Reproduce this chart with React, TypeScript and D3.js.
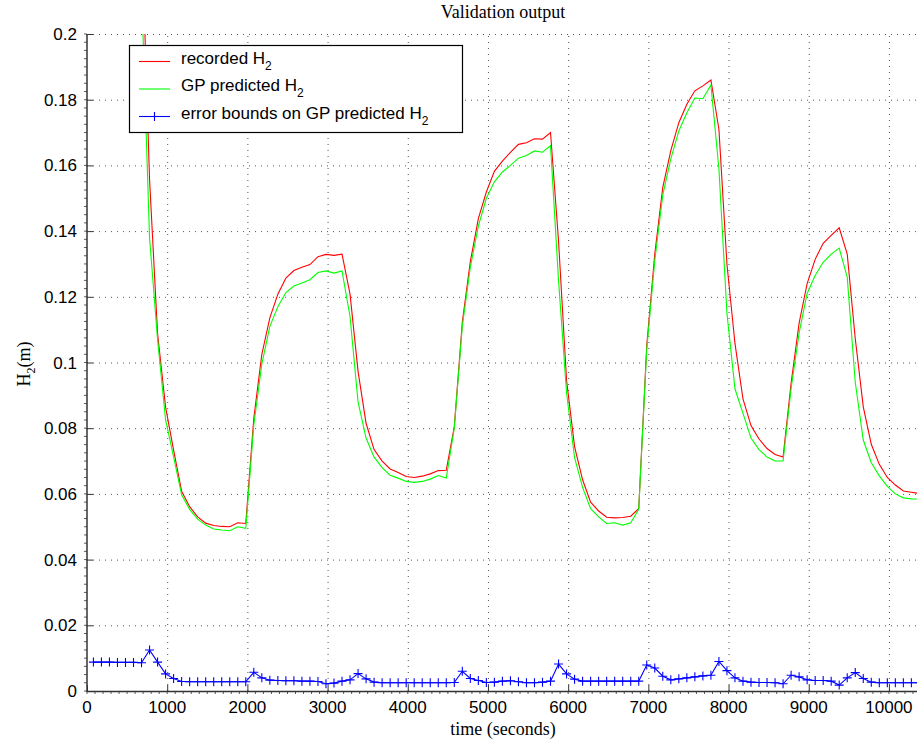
import React from 'react';
import * as d3 from 'd3';

// sampling of the validation run (seconds)
const t0 = 80;
const dt = 100;

// recorded H2 (m)
const recorded = [
  0.310, 0.310, 0.305, 0.300, 0.290, 0.270, 0.233, 0.1558, 0.1088, 0.0864,
  0.0733, 0.0608, 0.0561, 0.0530, 0.0511, 0.0504, 0.0501, 0.0500, 0.0512, 0.0510,
  0.0830, 0.1025, 0.1136, 0.1208, 0.1257, 0.1280, 0.1290, 0.1298, 0.1322, 0.1329,
  0.1326, 0.1330, 0.1208, 0.0973, 0.0815, 0.0735, 0.0700, 0.0676, 0.0665, 0.0653,
  0.0650, 0.0654, 0.0661, 0.0671, 0.0672, 0.0804, 0.1122, 0.1307, 0.1438, 0.1519,
  0.1582, 0.1613, 0.1640, 0.1664, 0.1669, 0.1681, 0.1680, 0.1700, 0.1370, 0.0946,
  0.0744, 0.0643, 0.0575, 0.0548, 0.0529, 0.0527, 0.0528, 0.0532, 0.0555, 0.1052,
  0.1330, 0.1533, 0.1645, 0.1730, 0.1786, 0.1827, 0.1842, 0.1860, 0.1710, 0.1300,
  0.1058, 0.0889, 0.0808, 0.0767, 0.0738, 0.0720, 0.0712, 0.0937, 0.1120, 0.1240,
  0.1314, 0.1363, 0.1387, 0.1410, 0.1330, 0.1073, 0.0865, 0.0751, 0.0690, 0.0650,
  0.0627, 0.0609, 0.0605, 0.0601,
];

// GP predicted H2 (m)
const predicted = [
  0.300, 0.300, 0.295, 0.290, 0.280, 0.255, 0.214, 0.138, 0.107, 0.0825,
  0.0713, 0.0597, 0.0553, 0.0523, 0.0505, 0.0493, 0.0490, 0.0488, 0.0500, 0.0495,
  0.0810, 0.0995, 0.1110, 0.1170, 0.1213, 0.1233, 0.1242, 0.1252, 0.1274, 0.1279,
  0.1272, 0.1279, 0.1140, 0.0880, 0.0770, 0.0712, 0.0680, 0.0657, 0.0648, 0.0638,
  0.0635, 0.0638, 0.0645, 0.0656, 0.0648, 0.0800, 0.1110, 0.1290, 0.1415, 0.1500,
  0.1550, 0.1580, 0.1600, 0.1622, 0.1630, 0.1644, 0.1640, 0.1660, 0.1250, 0.0908,
  0.0710, 0.0620, 0.0555, 0.0530, 0.0510, 0.0512, 0.0505, 0.0512, 0.0553, 0.1040,
  0.1310, 0.1510, 0.1620, 0.1705, 0.1760, 0.1805, 0.1803, 0.1845, 0.1590, 0.1150,
  0.0920, 0.0845, 0.0770, 0.0735, 0.0712, 0.0700, 0.0700, 0.0920, 0.1090, 0.1210,
  0.1265, 0.1305, 0.1330, 0.1348, 0.1260, 0.0940, 0.0764, 0.0695, 0.0655, 0.0623,
  0.0600, 0.0588, 0.0585, 0.0584,
];

// error bounds on GP prediction
const errorBounds = [
  0.0088, 0.0088, 0.0088, 0.0087, 0.0087, 0.0087, 0.0086, 0.0125, 0.0088, 0.0052,
  0.0038, 0.0029, 0.0028, 0.0028, 0.0028, 0.0028, 0.0028, 0.0028, 0.0028, 0.0028,
  0.0057, 0.0040, 0.0033, 0.0032, 0.0031, 0.0031, 0.0030, 0.0030, 0.0029, 0.0022,
  0.0024, 0.0030, 0.0034, 0.0053, 0.0037, 0.0027, 0.0025, 0.0025, 0.0025, 0.0025,
  0.0025, 0.0025, 0.0025, 0.0025, 0.0025, 0.0026, 0.0060, 0.0038, 0.0032, 0.0026,
  0.0027, 0.0030, 0.0031, 0.0028, 0.0025, 0.0025, 0.0027, 0.0030, 0.0082, 0.0052,
  0.0036, 0.0030, 0.0030, 0.0030, 0.0030, 0.0030, 0.0030, 0.0030, 0.0030, 0.0079,
  0.0070, 0.0045, 0.0034, 0.0037, 0.0040, 0.0043, 0.0046, 0.0048, 0.0090, 0.0062,
  0.0040, 0.0030, 0.0027, 0.0026, 0.0026, 0.0025, 0.0022, 0.0048, 0.0043, 0.0034,
  0.0032, 0.0032, 0.0030, 0.0018, 0.0040, 0.0056, 0.0038, 0.0027, 0.0025, 0.0025,
  0.0025, 0.0025, 0.0025, 0.0025,
];

const xTicks = [0, 1000, 2000, 3000, 4000, 5000, 6000, 7000, 8000, 9000, 10000];
const yTicks = [0, 0.02, 0.04, 0.06, 0.08, 0.1, 0.12, 0.14, 0.16, 0.18, 0.2];

const W = 917;
const H = 741;
const left = 87;
const right = 917;
const top = 34;
const bottom = 691;

const tickFont = '"Liberation Sans", Arial, Helvetica, sans-serif';
const labelFont = '"Liberation Serif", "Times New Roman", Times, serif';

export default function App() {
  const times = recorded.map((_, i) => t0 + i * dt);

  const x = d3.scaleLinear().domain([0, 10350]).range([left, right]);
  const y = d3.scaleLinear().domain([0, 0.2]).range([bottom, top]);

  const line = d3.line<number>()
    .x((_, i) => x(times[i]))
    .y((d) => y(d));

  const minorX = d3.range(0, 10350, 100);
  const minorY = d3.range(0, 0.2001, 0.0025);

  const plus = (cx: number, cy: number, r: number) =>
    `M${cx - r},${cy}H${cx + r}M${cx},${cy - r}V${cy + r}`;

  const legendRows = [
    { label: 'recorded H', color: '#ff0000', marker: false },
    { label: 'GP predicted H', color: '#00ff00', marker: false },
    { label: 'error bounds on GP predicted H', color: '#0000ff', marker: true },
  ];

  return (
    <svg
      width={W}
      height={H}
      style={{ position: 'absolute', left: 0, top: 0, display: 'block', background: '#fff' }}
    >
      <defs>
        <clipPath id="plotClip">
          <rect x={left} y={top} width={right - left} height={bottom - top} />
        </clipPath>
      </defs>

      {/* grid */}
      <g stroke="#555" strokeWidth={1} strokeDasharray="1,5">
        {xTicks.slice(1).map((t) => (
          <line key={'gx' + t} x1={x(t) + 0.5} x2={x(t) + 0.5} y1={bottom} y2={top} />
        ))}
        {yTicks.slice(1).map((t) => (
          <line key={'gy' + t} x1={left} x2={right} y1={y(t) + 0.5} y2={y(t) + 0.5} />
        ))}
      </g>

      {/* data */}
      <g clipPath="url(#plotClip)" fill="none" strokeWidth={1.1}>
        <path d={line(recorded) || ''} stroke="#ff0000" />
        <path d={line(predicted) || ''} stroke="#00ff00" />
        <path d={line(errorBounds) || ''} stroke="#0000ff" />
        <path
          d={errorBounds.map((v, i) => plus(x(times[i]), y(v), 4.5)).join('')}
          stroke="#0000ff"
        />
      </g>

      {/* axes */}
      <g stroke="#333" fill="none">
        <line x1={left} x2={left} y1={top} y2={bottom + 1} strokeWidth={1.5} />
        <line x1={left} x2={right} y1={bottom + 0.5} y2={bottom + 0.5} strokeWidth={1.5} />
        {minorX.map((t) => (
          <line key={'mx' + t} x1={x(t)} x2={x(t)} y1={bottom} y2={bottom + 3} strokeWidth={0.8} />
        ))}
        {minorY.map((t, i) => (
          <line key={'my' + i} x1={left - 3} x2={left} y1={y(t)} y2={y(t)} strokeWidth={0.8} />
        ))}
        {xTicks.map((t) => (
          <line key={'tx' + t} x1={x(t) + 0.5} x2={x(t) + 0.5} y1={bottom} y2={bottom - 6} strokeWidth={1} />
        ))}
        {yTicks.map((t) => (
          <line key={'ty' + t} x1={left} x2={left + 6} y1={y(t) + 0.5} y2={y(t) + 0.5} strokeWidth={1} />
        ))}
      </g>

      {/* tick labels */}
      <g fontFamily={tickFont} fontSize={17} fill="#000">
        {xTicks.map((t) => (
          <text key={'lx' + t} x={x(t)} y={713} textAnchor="middle">
            {t}
          </text>
        ))}
        {yTicks.map((t) => (
          <text key={'ly' + t} x={left - 10} y={y(t) + 6} textAnchor="end">
            {d3.format('~g')(t)}
          </text>
        ))}
      </g>

      {/* title and axis labels */}
      <g fontFamily={labelFont} fontSize={18} fill="#000">
        <text x={503} y={18} textAnchor="middle">
          Validation output
        </text>
        <text x={503} y={735} textAnchor="middle">
          time (seconds)
        </text>
        <text transform="translate(30,364) rotate(-90)" textAnchor="middle">
          H<tspan fontSize={12} dy={5}>2</tspan>
          <tspan dy={-5}>(m)</tspan>
        </text>
      </g>

      {/* legend */}
      <g>
        <rect x={129.5} y={45.5} width={333} height={87} fill="#fff" stroke="#000" strokeWidth={1.2} />
        {legendRows.map((r, i) => {
          const ly = 61.5 + i * 27.5;
          return (
            <g key={r.label}>
              <line x1={139} x2={170} y1={ly} y2={ly} stroke={r.color} strokeWidth={1.1} />
              {r.marker && <path d={plus(154.5, ly, 4.5)} stroke={r.color} strokeWidth={1.1} />}
              <text x={181} y={ly + 2} fontFamily={tickFont} fontSize={17} fill="#000">
                {r.label}
                <tspan fontSize={12} dy={6}>2</tspan>
              </text>
            </g>
          );
        })}
      </g>
    </svg>
  );
}
